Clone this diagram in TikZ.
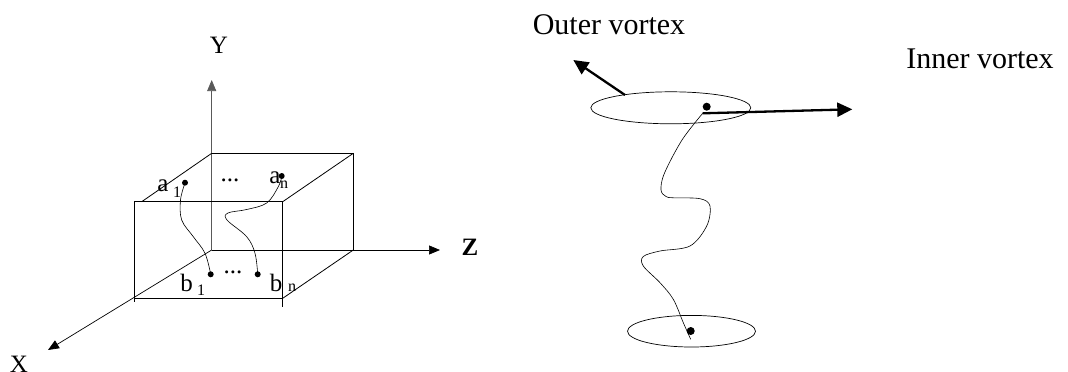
\documentclass[tikz,border=0pt]{standalone}
\usepackage{fontspec}
\setmainfont{Liberation Serif}
\usetikzlibrary{arrows.meta}
\begin{document}
\begin{tikzpicture}[x=1pt,y=-1pt,
  axis/.style={line width=0.7pt,-{Triangle[length=11pt,width=9pt]}},
  edge/.style={line width=0.8pt},
  wire/.style={line width=0.6pt},
  bold arrow/.style={line width=2.3pt,-{Triangle[length=15pt,width=14pt]}},
  pt/.style={circle,fill=black,inner sep=0pt,minimum size=6pt},
  bigpt/.style={circle,fill=black,inner sep=0pt,minimum size=8pt},
  lbl/.style={inner sep=0pt,font=\fontsize{25}{25}\selectfont},
  title/.style={inner sep=0pt,font=\fontsize{30}{30}\selectfont},
  sub/.style={inner sep=0pt,font=\fontsize{16}{16}\selectfont}]
\useasboundingbox (0,0) rectangle (1068,372);
% box corners
\coordinate (O) at (211.7,250);
\coordinate (BTL) at (211.7,153.3);
\coordinate (BTR) at (353.3,153.3);
\coordinate (BBR) at (353.3,250);
\coordinate (FTL) at (134,201.7);
\coordinate (FTR) at (282.7,201.7);
\coordinate (FBR) at (282.7,298.3);
\coordinate (FBL) at (134,298.3);
\coordinate (FBRx) at (282.7,306.7);
\coordinate (FTLe) at (141.7,201.7);
% axes
\coordinate (Ytip) at (211.7,80);
\coordinate (Ztip) at (440,250);
\coordinate (Xtip) at (48,350);
\draw[axis,black!65] (O) -- (Ytip);
\draw[axis] (O) -- (Ztip);
\draw[axis] (O) -- (Xtip);
\node[lbl] (Y) at (219,45) {Y};
\node[lbl,font=\fontsize{25}{25}\selectfont\bfseries] (Z) at (470,247) {Z};
\node[lbl] (X) at (19,364) {X};
% box
\draw[edge] (BTL) -- (BTR) -- (BBR);
\draw[edge] (FTL) -- (FTR) -- (FBRx);
\draw[edge] (FTL) -- (FBL) -- (FBR);
\draw[edge] (BTL) -- (FTLe);
\draw[edge] (BTR) -- (FTR);
\draw[edge] (BBR) -- (FBR);
\draw[edge] (FBL) -- ++(0,4);
% points
\node[pt] (a1) at (185,182.7) {};
\node[pt] (an) at (281.7,176) {};
\node[pt] (b1) at (210.7,274.3) {};
\node[pt] (bn) at (257.7,274.3) {};
\node[lbl] (la1) at (163,186) {a};
\node[sub] (sa1) at (177,192) {1};
\node[lbl] (lan) at (275,178) {a};
\node[sub] (san) at (284,185) {n};
\node[lbl] (lb1) at (186.7,283) {b};
\node[sub] (sb1) at (201,290) {1};
\node[lbl] (lbn) at (276,283) {b};
\node[sub] (sbn) at (292,288) {n};
\node[lbl] (dta) at (230,180) {...};
\node[lbl] (dtb) at (233,272) {...};
\draw[wire] plot[smooth,tension=0.6] coordinates {(185,183) (180.5,200) (181.7,220) (193.3,236.7) (205,253.3) (210.7,274.3)};
\draw[wire] plot[smooth,tension=0.6] coordinates {(281.7,176.7) (278.3,186.7) (266.7,203) (246.7,209.5) (228,213) (227,220) (246.7,236.7) (255,253.3) (257.7,274.3)};
% right diagram
\node[title] (outer) at (609,25) {Outer vortex};
\node[title] (inner) at (980,59) {Inner vortex};
\draw[line width=0.7pt] (670.8,107.8) ellipse [x radius=80, y radius=16];
\draw[line width=0.7pt] (691.5,331.2) ellipse [x radius=64, y radius=15.8];
\coordinate (oS) at (625,95);
\coordinate (oT) at (573.3,60);
\coordinate (iS) at (702.7,113.3);
\coordinate (iT) at (852.3,109.3);
\draw[bold arrow] (oS) -- (oT);
\draw[bold arrow] (iS) -- (iT);
\node[bigpt] (top) at (706.7,106.7) {};
\node[bigpt] (bot) at (690.7,331) {};
\draw[wire] plot[smooth,tension=0.55] coordinates {(702.7,113.3) (682,140) (664.4,173.3) (661,190) (666,196.5) (673.3,197.8) (700,198.7) (710,206) (706.7,226) (690,246) (660,251) (643.3,256.5) (643.3,266) (660,282.7) (673.3,299.3) (683.3,322.7) (690.7,339.3)};
\end{tikzpicture}
\end{document}
